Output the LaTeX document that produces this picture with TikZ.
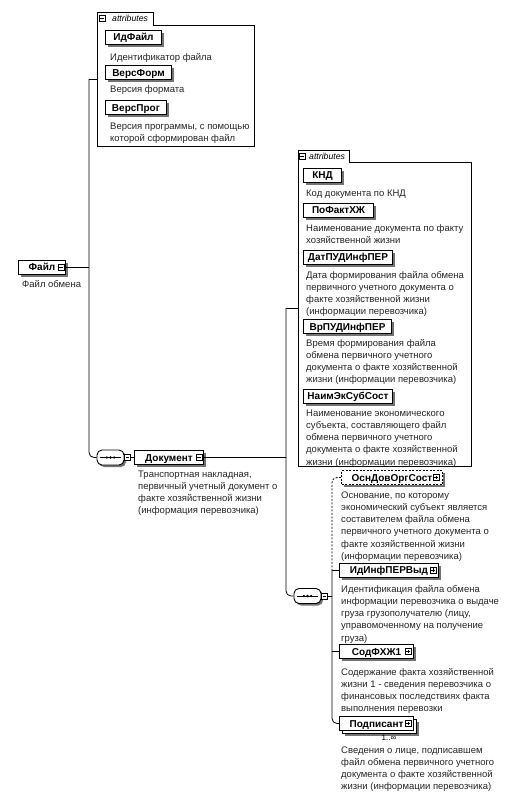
\documentclass[tikz,border=0pt]{standalone}
\usepackage{fontspec}
\setmainfont{Liberation Sans}
\usetikzlibrary{shadows,calc}
\begin{document}
\begin{tikzpicture}[x=1pt,y=-1pt,
  conn/.style={line width=0.8pt, draw=black},
  optconn/.style={conn, dash pattern=on 2pt off 1.5pt},
  captxt/.style={anchor=north west, align=left, inner sep=0pt, text=black!85, font=\fontsize{9.5}{12.1}\selectfont},
  elembase/.style={draw=black, fill=white, line width=1pt, anchor=west, minimum height=14pt, inner xsep=0pt, inner ysep=0pt, text height=7.2pt, text depth=0pt, font=\bfseries\fontsize{10}{12}\selectfont, minimum width=#1},
  elem/.style={elembase=#1, drop shadow={shadow xshift=2.5pt, shadow yshift=-2.5pt, fill=black!55, opacity=1}},
  optelem/.style={elem=#1, dash pattern=on 2pt off 1.5pt},
  multielem/.style={elembase=#1, drop shadow={shadow xshift=5.5pt, shadow yshift=-5.5pt, fill=black!55, opacity=1}, copy shadow={shadow xshift=3pt, shadow yshift=-3pt, draw=black, fill=white, line width=1pt}},
  seqsym/.style={draw=black, fill=white, line width=0.9pt, rounded corners=5pt, minimum width=27pt, minimum height=15pt, inner sep=0pt, drop shadow={shadow xshift=2pt, shadow yshift=-2pt, fill=black!55, opacity=1}},
  tabtext/.style={font=\itshape\fontsize{8.7}{10}\selectfont, anchor=west, inner sep=0pt},
  container/.style={draw=none, anchor=north west, inner sep=0pt},
  outlinebox/.style={line width=0.8pt, draw=black},
  minusbox/.pic={\draw[line width=0.5pt, fill=white] (-3,-3) rectangle (3,3); \draw[line width=0.6pt] (-1.8,0) -- (1.8,0);},
  plusbox/.pic={\draw[line width=0.5pt, fill=white] (-3,-3) rectangle (3,3); \draw[line width=0.6pt] (-1.8,0) -- (1.8,0) (0,-1.8) -- (0,1.8);}
]
\useasboundingbox[fill=white] (0,0) rectangle (517,798);

% bus coordinates
\coordinate (busA) at (89,0);
\coordinate (busB) at (286,0);
\coordinate (busC) at (332,0);

% ---------- attributes container A ----------
\node[container, minimum width=157pt, minimum height=134pt] (attrA) at (97,12) {};
\draw[outlinebox] (97,146) -- (97,12) -- (153,12) -- (153,25) -- (254,25) -- (254,146) -- cycle;
\pic at (102,18.5) {minusbox};
\node[tabtext] (attrAlbl) at (112,18.5) {attributes};

\node[elem=56pt] (idfajl) at (105,37) {ИдФайл};
\node[captxt] (idfajlc) at (110,52) {\strut Идентификатор файла};
\node[elem=66pt] (versform) at (105,72.5) {ВерсФорм};
\node[captxt] (versformc) at (110,84) {\strut Версия формата};
\node[elem=61pt] (versprog) at (105,107.5) {ВерсПрог};
\node[captxt] (versprogc) at (110,121) {\strut Версия программы, с помощью\\которой сформирован файл};

% ---------- root element ----------
\node[elem=47pt] (fajl) at (18,267) {Файл\hspace{8pt}};
\pic at ($(fajl.east)+(-5,0)$) {minusbox};
\node[captxt] (fajlc) at (22,279) {\strut Файл обмена};

% ---------- sequence 1 and Документ ----------
\node[seqsym] (s1) at (110.5,457.5) {};
\draw[line width=0.7pt] ($(s1.west)+(3,0)$) -- ($(s1.east)+(-3,0)$);
\foreach \dx in {-3.6,0,3.6} \fill ($(s1.center)+(\dx,0)$) circle[radius=1.3pt];

\node[elem=69pt] (dok) at (134,457.5) {Документ\hspace{8pt}};
\pic at ($(dok.east)+(-5,0)$) {minusbox};
\node[captxt] (dokc) at (138,469) {\strut Транспортная накладная,\\первичный учетный документ о\\факте хозяйственной жизни\\(информация перевозчика)};

% connectors of Файл
\draw[conn] (attrA.west) -- (busA |- attrA.west);
\draw[conn, rounded corners=5pt] (busA |- attrA.west) |- (s1.west);
\draw[conn] (fajl.east) -- (busA |- fajl.east);
\draw[conn] (s1.east) -- (dok.west);
\pic at ($(s1.east)+(3,0)$) {minusbox};

% ---------- attributes container B ----------
\node[container, minimum width=173pt, minimum height=316pt] (attrB) at (298,150) {};
\draw[outlinebox] (298,466) -- (298,150) -- (349,150) -- (349,162) -- (471,162) -- (471,466) -- cycle;
\pic at (302,156) {minusbox};
\node[tabtext] (attrBlbl) at (309,156) {attributes};

\node[elem=38pt] (knd) at (303,175) {КНД};
\node[captxt] (kndc) at (306,188) {\strut Код документа по КНД};
\node[elem=70pt] (pofakt) at (303,210) {ПоФактХЖ};
\node[captxt] (pofaktc) at (306,223) {\strut Наименование документа по факту\\хозяйственной жизни};
\node[elem=89pt] (datpud) at (303,257) {ДатПУДИнфПЕР};
\node[captxt] (datpudc) at (306,270) {\strut Дата формирования файла обмена\\первичного учетного документа о\\факте хозяйственной жизни\\(информации перевозчика)};
\node[elem=88pt] (vrpud) at (303,326.5) {ВрПУДИнфПЕР};
\node[captxt] (vrpudc) at (306,338) {\strut Время формирования файла\\обмена первичного учетного\\документа о факте хозяйственной\\жизни (информации перевозчика)};
\node[elem=89pt] (naimek) at (303,396) {НаимЭкСубСост};
\node[captxt] (naimekc) at (306,408) {\strut Наименование экономического\\субъекта, составляющего файл\\обмена первичного учетного\\документа о факте хозяйственной\\жизни (информации перевозчика)};

% ---------- sequence 2 ----------
\node[seqsym] (s2) at (307.5,596) {};
\draw[line width=0.7pt] ($(s2.west)+(3,0)$) -- ($(s2.east)+(-3,0)$);
\foreach \dx in {-3.6,0,3.6} \fill ($(s2.center)+(\dx,0)$) circle[radius=1.3pt];

% connectors of Документ
\draw[conn] (dok.east) -- (busB |- dok.east);
\draw[conn] (attrB.west) -- (busB |- attrB.west);
\draw[conn, rounded corners=5pt] (busB |- attrB.west) |- (s2.west);

% ---------- children of sequence 2 ----------
\node[optelem=101pt] (osn) at (341,477.5) {ОснДовОргСост\hspace{12pt}};
\pic at ($(osn.east)+(-7,0)$) {plusbox};
\node[captxt] (osnc) at (341,490) {\strut Основание, по которому\\экономический субъект является\\составителем файла обмена\\первичного учетного документа о\\факте хозяйственной жизни\\(информации перевозчика)};

\node[elem=99pt] (idinf) at (339,570) {ИдИнфПЕРВыд\hspace{11pt}};
\pic at ($(idinf.east)+(-6,0)$) {plusbox};
\node[captxt] (idinfc) at (341,584) {\strut Идентификация файла обмена\\информации перевозчика о выдаче\\груза грузополучателю (лицу,\\управомоченному на получение\\груза)};

\node[elem=74pt] (sod) at (339,651.5) {СодФХЖ1\hspace{9pt}};
\pic at ($(sod.east)+(-6,0)$) {plusbox};
\node[captxt] (sodc) at (341,667) {\strut Содержание факта хозяйственной\\жизни 1 - сведения перевозчика о\\финансовых последствиях факта\\выполнения перевозки};

\node[multielem=74pt] (podp) at (339,723.5) {Подписант\hspace{9pt}};
\pic at ($(podp.east)+(-6,0)$) {plusbox};
\node[font=\fontsize{8}{9}\selectfont, inner sep=0pt] (podpm) at (389,737.5) {1..∞};
\node[captxt] (podpc) at (341,745) {\strut Сведения о лице, подписавшем\\файл обмена первичного учетного\\документа о факте хозяйственной\\жизни (информации перевозчика)};

% connectors of sequence 2
\draw[conn] (s2.east) -- (busC |- s2.east);
\pic at ($(s2.east)+(3,0)$) {minusbox};
\draw[optconn, rounded corners=5pt] (osn.west) -| (busC |- idinf.west);
\draw[conn] (busC |- idinf.west) -- (idinf.west);
\draw[conn] (busC |- sod.west) -- (sod.west);
\draw[conn, rounded corners=5pt] (busC |- idinf.west) |- (podp.west);
\end{tikzpicture}
\end{document}
